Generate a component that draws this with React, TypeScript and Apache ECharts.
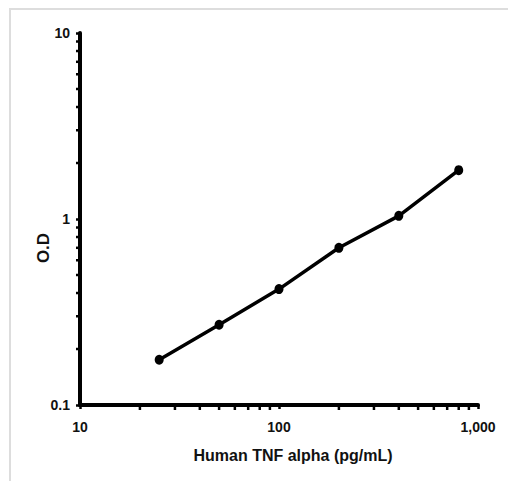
import React, { useEffect, useRef } from "react";
import * as echarts from "echarts";

const concentrations = [25, 50, 100, 200, 400, 800];
const odValues = [0.175, 0.27, 0.42, 0.7, 1.04, 1.83];
const xTickLabels = ["10", "100", "1,000"];
const yTickLabels = ["0.1", "1", "10"];
const xMinorTicks = [20, 30, 40, 50, 60, 70, 80, 90, 200, 300, 400, 500, 600, 700, 800, 900];
const yMinorTicks = [0.2, 0.3, 0.4, 0.5, 0.6, 0.7, 0.8, 0.9, 2, 3, 4, 5, 6, 7, 8, 9];
const xAxisTitle = "Human TNF alpha (pg/mL)";
const yAxisTitle = "O.D";

const FONT = "'Liberation Sans', Arial, sans-serif";

export default function App() {
  const ref = useRef<HTMLDivElement>(null);
  useEffect(() => {
    if (!ref.current) return;
    const chart = echarts.init(ref.current, null, { renderer: "svg" });
    const labelStyle = { fontFamily: FONT, fontWeight: "bold" as const, fontSize: 14, color: "#111" };
    chart.setOption({
      animation: false,
      backgroundColor: "#fff",
      grid: { left: 80, right: 30, top: 33, bottom: 76, containLabel: false },
      graphic: [
        {
          type: "polyline",
          shape: { points: [[10, 481], [10, 9], [508, 9]] },
          style: { stroke: "#dddddd", lineWidth: 2, fill: "none" },
          silent: true,
        },
      ],
      xAxis: {
        type: "log",
        logBase: 10,
        min: 10,
        max: 1000,
        name: xAxisTitle,
        nameLocation: "middle",
        nameMoveOverlap: false,
        nameGap: 42,
        nameTextStyle: { ...labelStyle, fontSize: 16, padding: [0, 0, 0, 28] },
        axisLine: { show: true, lineStyle: { color: "#000", width: 4 } },
        axisTick: { show: true, length: 4, lineStyle: { color: "#000", width: 2.5 } },
        axisLabel: {
          ...labelStyle,
          margin: 15,
          formatter: (v: number, i: number) => xTickLabels[i] ?? String(v),
        },
        splitLine: { show: false },
      },
      yAxis: {
        type: "log",
        logBase: 10,
        min: 0.1,
        max: 10,
        name: yAxisTitle,
        nameLocation: "middle",
        nameMoveOverlap: false,
        nameRotate: 90,
        nameGap: 28,
        nameTextStyle: { ...labelStyle, fontSize: 17, padding: [0, 58, 0, 0] },
        axisLine: { show: true, lineStyle: { color: "#000", width: 4 } },
        axisTick: { show: true, length: 4, lineStyle: { color: "#000", width: 2.5 } },
        axisLabel: {
          ...labelStyle,
          margin: 10,
          formatter: (v: number, i: number) => yTickLabels[i] ?? String(v),
        },
        splitLine: { show: false },
      },
      series: [
        {
          type: "custom",
          clip: false,
          silent: true,
          data: xMinorTicks.map((v) => [v, 0.1]),
          renderItem: (params: any, api: any) => {
            const p = api.coord([api.value(0), api.value(1)]);
            return {
              type: "line",
              shape: { x1: p[0], y1: p[1], x2: p[0], y2: p[1] + 5 },
              style: { stroke: "#000", lineWidth: 2.5 },
            };
          },
        },
        {
          type: "custom",
          clip: false,
          silent: true,
          data: yMinorTicks.map((v) => [10, v]),
          renderItem: (params: any, api: any) => {
            const p = api.coord([api.value(0), api.value(1)]);
            return {
              type: "line",
              shape: { x1: p[0], y1: p[1], x2: p[0] - 4, y2: p[1] },
              style: { stroke: "#000", lineWidth: 2.5 },
            };
          },
        },
        {
          type: "line",
          data: concentrations.map((c, i) => [c, odValues[i]]),
          symbol: "circle",
          symbolSize: [9, 10],
          lineStyle: { color: "#000", width: 3.5 },
          itemStyle: { color: "#000" },
        },
      ],
    });
    return () => chart.dispose();
  }, []);
  return (
    <div
      ref={ref}
      style={{ position: "fixed", left: 0, top: 0, width: 508, height: 481 }}
    />
  );
}
